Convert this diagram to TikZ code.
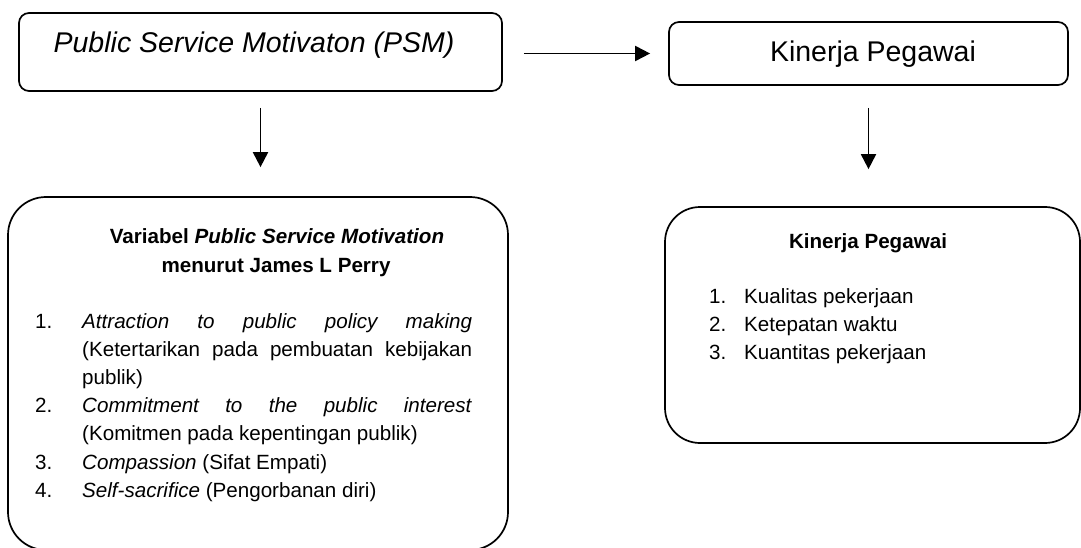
\documentclass[tikz,border=0pt]{standalone}
\usepackage{fontspec}
\setmainfont{Liberation Sans}
\usetikzlibrary{arrows.meta}
\begin{document}
\begin{tikzpicture}[x=1pt,y=-1pt,
  boxline/.style={draw=black, line width=1.7pt, inner sep=0pt},
  smallbox/.style={boxline, rounded corners=10pt},
  bigbox/.style={boxline, rounded corners=38pt},
  conn/.style={line width=1.9pt, -{Triangle[length=15pt,width=15pt]}},
  bigtext/.style={inner sep=0pt, anchor=base, font=\fontsize{28.5}{34}\selectfont},
  bodytext/.style={inner sep=0pt, font=\fontsize{20.6}{28.2}\selectfont}
]
\useasboundingbox (0,0) rectangle (1081,548);
% top boxes
\node[smallbox, minimum width=483pt, minimum height=78pt] (psm) at (260.5,52) {};
\node[bigtext] (psmt) at (254,53) {\itshape Public Service Motivaton (PSM)};
\node[smallbox, minimum width=399pt, minimum height=63pt] (kin) at (868.5,53.5) {};
\node[bigtext] (kint) at (873,62) {Kinerja Pegawai};
% bottom boxes
\node[bigbox, minimum width=500pt, minimum height=353pt] (var) at (258,373.5) {};
\node[bigbox, rounded corners=35pt, minimum width=415pt, minimum height=236pt] (kp) at (872.5,325) {};
% connectors
\draw[conn, shorten <=21pt, shorten >=18pt] (psm.east |- kin.center) -- (kin.west);
\draw[conn, shorten <=16pt, shorten >=29pt] (psm.south) -- (psm.south |- var.north);
\draw[conn, shorten <=22pt, shorten >=37pt] (kin.south) -- (kin.south |- kp.north);
% left box text
\node[bodytext, anchor=base] (vart1) at (277,243) {\bfseries Variabel \textit{Public Service Motivation}};
\node[bodytext, anchor=base] (vart2) at (276,272) {\bfseries menurut James L Perry};
\node[bodytext, anchor=base west] (varlist) at (35,328) {\parbox[t]{437pt}{%
  \fontsize{20.6}{28.2}\selectfont
  \setlength{\parindent}{0pt}\setlength{\parskip}{0pt}%
  \tolerance=10000 \hbadness=10000 \pretolerance=-1 \hyphenpenalty=10000
  \hangindent=47pt\hangafter=1 \makebox[47pt][l]{1.}\textit{Attraction to public policy making}\linebreak (Ketertarikan pada pembuatan kebijakan\linebreak publik)\par
  \hangindent=47pt\hangafter=1 \makebox[47pt][l]{2.}\textit{Commitment to the public interest}\linebreak (Komitmen pada kepentingan publik)\par
  \hangindent=47pt\hangafter=1 \makebox[47pt][l]{3.}\textit{Compassion} (Sifat Empati)\par
  \hangindent=47pt\hangafter=1 \makebox[47pt][l]{4.}\textit{Self-sacrifice} (Pengorbanan diri)\par}};
% right box text
\node[bodytext, anchor=base] (kpt) at (868,248) {\bfseries Kinerja Pegawai};
\node[bodytext, anchor=base west] (kplist) at (709,303) {\parbox[t]{300pt}{%
  \fontsize{20.6}{28}\selectfont
  \setlength{\parindent}{0pt}\setlength{\parskip}{0pt}\raggedright
  \makebox[35pt][l]{1.}Kualitas pekerjaan\par
  \makebox[35pt][l]{2.}Ketepatan waktu\par
  \makebox[35pt][l]{3.}Kuantitas pekerjaan\par}};
\end{tikzpicture}
\end{document}
